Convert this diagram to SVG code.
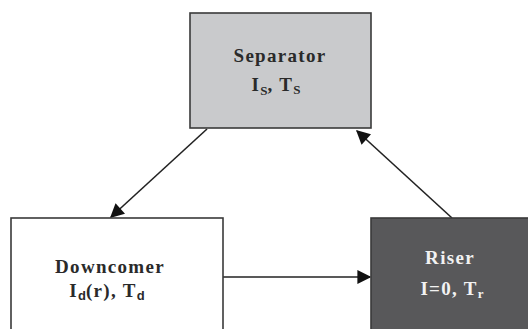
<svg xmlns="http://www.w3.org/2000/svg" width="528" height="329" viewBox="0 0 528 329">
<defs>
<style>
.box{stroke:#3a3a3a;stroke-width:1.6}
.t{font-family:"Liberation Serif","Times New Roman",serif;font-weight:bold;font-size:19px;letter-spacing:1.3px;text-anchor:middle}
.sub{font-size:13px;letter-spacing:0}
.dark{fill:#2a2a2a}
.light{fill:#f2f2f2}
.conn{stroke:#222;stroke-width:1.6;fill:none}
</style>
<marker id="ahl" viewBox="0 0 10 10" refX="9" refY="5" markerWidth="16" markerHeight="14" markerUnits="userSpaceOnUse" orient="auto">
<path d="M0,0 L10,5 L0,10 Z" fill="#111"/>
</marker>
</defs>
<rect width="528" height="329" fill="#ffffff"/>
<g id="connectors">
<line class="conn" x1="207" y1="129" x2="111" y2="217" marker-end="url(#ahl)"/>
<line class="conn" x1="452" y1="218" x2="357" y2="131" marker-end="url(#ahl)"/>
<line class="conn" x1="223" y1="277" x2="370" y2="277" marker-end="url(#ahl)"/>
</g>
<g id="separator">
<rect class="box" x="190" y="13" width="181" height="115" fill="#c9cacc"/>
<text class="t dark" x="280" y="62">Separator</text>
<text class="t dark" x="276" y="91">I<tspan class="sub" dy="4">S</tspan><tspan dy="-4">, T</tspan><tspan class="sub" dy="3">S</tspan></text>
</g>
<g id="downcomer">
<rect class="box" x="11" y="218" width="212" height="120" fill="#ffffff"/>
<text class="t dark" x="110" y="273">Downcomer</text>
<text class="t dark" x="107" y="297">I<tspan class="sub" dy="3" font-family="Liberation Sans, Arial, sans-serif">d</tspan><tspan dy="-3">(r), T</tspan><tspan class="sub" dy="3" font-family="Liberation Sans, Arial, sans-serif">d</tspan></text>
</g>
<g id="riser">
<rect class="box" x="371" y="218" width="165" height="120" fill="#58585a"/>
<text class="t light" x="450" y="264">Riser</text>
<text class="t light" x="452" y="295">I=0, T<tspan class="sub" dy="3">r</tspan></text>
</g>
</svg>
